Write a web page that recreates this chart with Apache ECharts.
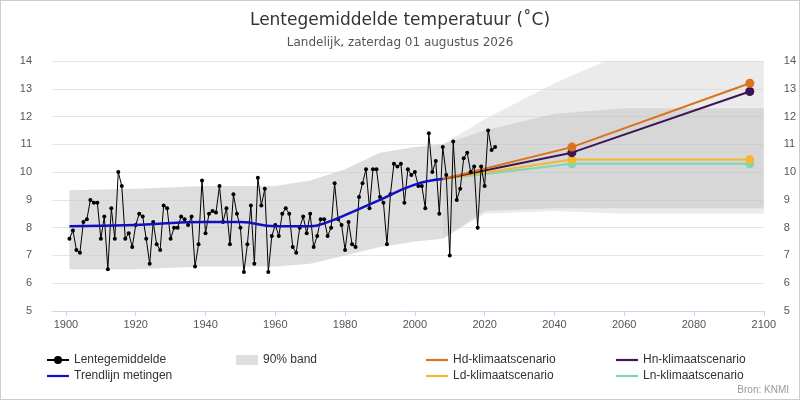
<!DOCTYPE html>
<html><head><meta charset="utf-8">
<script src="https://cdn.jsdelivr.net/npm/echarts@6/dist/echarts.min.js"></script>
<style>html,body{margin:0;padding:0}#c{width:798px;height:398px;border:1px solid #ccc}</style>
</head><body><div id="c"></div>
<script>
// lentegemiddelde per jaar, 1901 t/m 2023
const metingen = [7.6,7.9,7.2,7.1,8.2,8.3,9.0,8.9,8.9,7.6,
  8.4,6.5,8.7,7.6,10.0,9.5,7.6,7.8,7.3,8.1,
  8.5,8.4,7.6,6.7,8.2,7.4,7.2,8.8,8.7,7.6,
  8.0,8.0,8.4,8.3,8.1,8.4,6.6,7.4,9.7,7.8,8.5,8.6,
  8.55,9.5,8.2,8.7,7.4,9.2,8.5,8.0,
  6.4,7.4,8.8,6.7,9.8,8.8,9.4,6.4,7.7,8.1,7.7,8.5,8.7,8.5,7.3,7.1,8.0,8.4,7.8,8.5,7.3,7.7,
  8.3,8.3,7.7,8.0,9.6,8.3,8.1,7.2,8.2,7.4,7.3,9.1,9.6,10.1,8.7,10.1,10.1,9.1,8.9,7.4,9.2,
  10.3,10.2,10.3,8.9,10.1,
  9.9,10.0,9.5,9.5,8.7,11.4,10.0,10.4,8.5,10.9,9.9,7.0,11.1,9.0,9.4,10.5,10.7,10.0,10.2,8.0,
  10.2,9.5,11.5,10.8,10.9];
const lastYear = 2023;
const trend = [[1901,8.05],[1920,8.1],[1940,8.2],[1950,8.2],[1960,8.05],[1970,8.05],[1975,8.2],
  [1980,8.45],[1990,9.0],[2000,9.55],[2008,9.75]];
// [jaar, onder, boven]
const band = [[1901,6.5,9.35],[1920,6.5,9.4],[1940,6.6,9.5],[1960,6.6,9.5],[1970,6.7,9.7],
  [1980,7.0,10.1],[1990,7.3,10.7],[2000,7.5,10.9],[2008,7.6,11.0]];
const bandLight = [[2008,7.6,11.0],[2020,8.5,11.9],[2040,8.6,13.2],[2060,8.5,14.3],[2100,8.5,14.9]];
const bandMid = [[2008,7.6,11.0],[2020,8.6,11.5],[2040,8.7,12.1],[2060,8.7,12.3],[2100,8.7,12.3]];
const scenYears = [2008,2045,2096];
const Hd = [9.75,10.9,13.2];
const Hn = [9.75,10.7,12.9];
const Ld = [9.75,10.45,10.45];
const Ln = [9.75,10.3,10.3];
const xTicks = [1900,1920,1940,1960,1980,2000,2020,2040,2060,2080,2100];

const pts = metingen.map((v,i)=>[lastYear-metingen.length+1+i, v]);
function bandSeries(name, b, color){
  return {type:'custom',name:name,data:[0],silent:true,clip:true,color:color,
    renderItem:(params,api)=>{
      const up = b.map(d=>api.coord([d[0],d[2]]));
      const lo = b.slice().reverse().map(d=>api.coord([d[0],d[1]]));
      return {type:'polygon',shape:{points:up.concat(lo)},style:{fill:color}};
    }};
}
function scen(name,vals,color){
  return {type:'line',name:name,data:scenYears.map((y,i)=>[y,vals[i]]),color:color,lineStyle:{width:2,color:color},
    symbol:'circle',symbolSize:(v,p)=>p.dataIndex===0?0:9,itemStyle:{color:color},z:4};
}
const axisY = (pos)=>({type:'value',position:pos,min:5,max:14,interval:1,
  axisLabel:{color:'#555',fontSize:11,margin:20},
  splitLine:{show:pos==='left',lineStyle:{color:'#e6e6e6'}},axisLine:{show:false},axisTick:{show:false}});
const lineIcon = 'path://M0,4h20v2h-20z';
const leg = (left,data)=>({orient:'vertical',left:left,top:348,itemGap:4,itemWidth:22,itemHeight:10,
  textStyle:{fontSize:12,color:'#333'},data:data});
const chart = echarts.init(document.getElementById('c'));
chart.setOption({
  animation:false,
  title:{text:'Lentegemiddelde temperatuur (˚C)',subtext:'Landelijk, zaterdag 01 augustus 2026',left:'center',top:6,
    textStyle:{fontFamily:'DejaVu Sans',fontSize:17,fontWeight:'normal',color:'#333'},
    subtextStyle:{fontFamily:'DejaVu Sans',fontSize:12,color:'#555'},itemGap:8},
  grid:{left:51,right:34,top:60,bottom:88},
  xAxis:{type:'value',min:1896,max:2100,
    axisLabel:{customValues:xTicks,color:'#555',fontSize:11,formatter:v=>String(v)},
    axisTick:{customValues:xTicks,lineStyle:{color:'#ccd6eb'}},
    axisLine:{lineStyle:{color:'#ccd6eb'}},splitLine:{show:false}},
  yAxis:[axisY('left'),axisY('right')],
  legend:[
    leg(40,['Lentegemiddelde',{name:'Trendlijn metingen',icon:lineIcon}]),
    leg(230,[{name:'90% band',icon:'rect'}]),
    leg(420,[{name:'Hd-klimaatscenario',icon:lineIcon},{name:'Ld-klimaatscenario',icon:lineIcon}]),
    leg(610,[{name:'Hn-klimaatscenario',icon:lineIcon},{name:'Ln-klimaatscenario',icon:lineIcon}])
  ],
  graphic:[{type:'text',right:10,bottom:4,style:{text:'Bron: KNMI',fontSize:10,fill:'#999'}}],
  series:[
    bandSeries('bandL',bandLight,'rgba(205,205,205,0.4)'),
    bandSeries('bandM',bandMid,'rgba(185,185,185,0.4)'),
    bandSeries('90% band',band,'rgba(200,200,200,0.6)'),
    {type:'line',name:'Lentegemiddelde',data:pts,color:'#000',lineStyle:{width:1,color:'#000'},symbol:'circle',symbolSize:4,z:5},
    {type:'line',name:'Trendlijn metingen',data:trend,smooth:true,symbol:'none',color:'#1010c0',lineStyle:{width:2.5,color:'#1010c0'},z:6},
    scen('Ln-klimaatscenario',Ln,'#7fd6b4'),
    scen('Ld-klimaatscenario',Ld,'#f2b930'),
    scen('Hn-klimaatscenario',Hn,'#3e1454'),
    scen('Hd-klimaatscenario',Hd,'#d9731c')
  ]
});
</script></body></html>
